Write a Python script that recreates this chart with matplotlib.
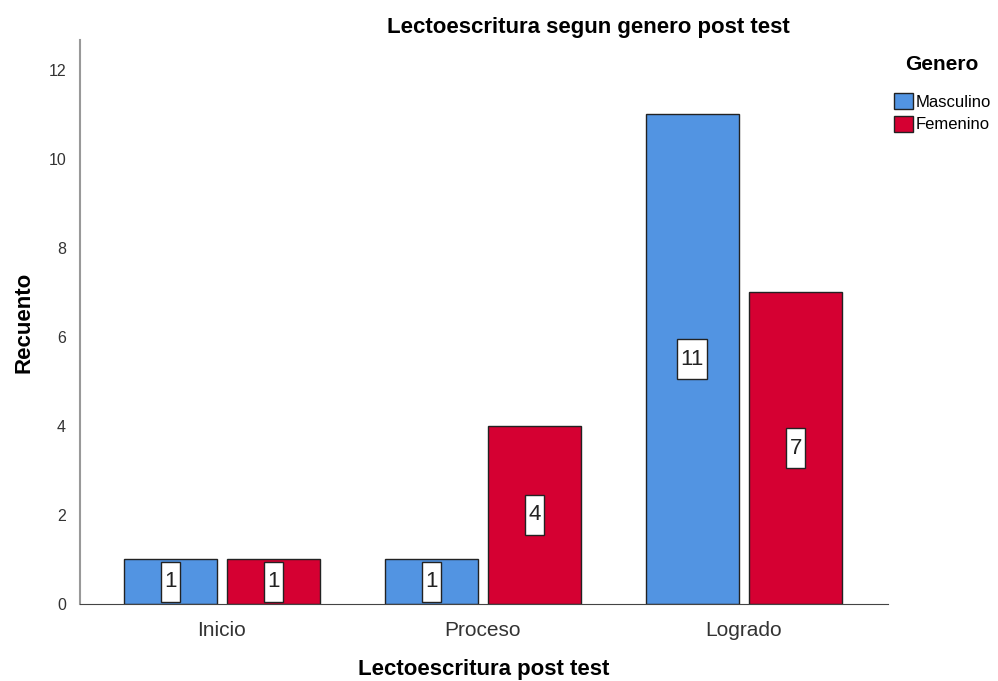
import matplotlib
matplotlib.use("Agg")
import matplotlib.pyplot as plt
import numpy as np
from matplotlib.patches import Patch
from matplotlib.path import Path

plt.rcParams["font.family"] = ["Liberation Sans", "DejaVu Sans"]

categories = ["Inicio", "Proceso", "Logrado"]
masculino = [1, 1, 11]
femenino = [1, 4, 7]
series_names = ["Masculino", "Femenino"]
colors = ["#5294E2", "#D50032"]


def tall_box(x0, y0, width, height, mutation_size):
    px = 0.15 * mutation_size
    py = 0.42 * mutation_size
    x0, y0 = x0 - px, y0 - py
    x1, y1 = x0 + width + 2 * px, y0 + height + 2 * py
    return Path([(x0, y0), (x1, y0), (x1, y1), (x0, y1), (x0, y0)], closed=True)


fig = plt.figure(figsize=(9.98, 6.81), dpi=100)
ax = fig.add_axes([80/998, 77/681, 808/998, 564/681])

x = np.arange(len(categories))
w = 0.356
off = 0.198
for vals, dx, c in [(masculino, -off, colors[0]), (femenino, off, colors[1])]:
    bars = ax.bar(x + dx, vals, width=w, color=c, edgecolor="#222222", linewidth=1.0)
    for b, v in zip(bars, vals):
        ax.text(b.get_x() + b.get_width()/2, v/2, str(v), ha="center", va="center",
                fontsize=16, color="#222222",
                bbox=dict(boxstyle=tall_box, fc="white", ec="#222222", lw=1))

ax.set_xlim(-0.544, 2.552)
ax.set_ylim(0, 12.67)
ax.set_yticks([0, 2, 4, 6, 8, 10, 12])
ax.set_xticks(x)
ax.set_xticklabels(categories, fontsize=15, color="#333333")
ax.tick_params(axis="y", length=0, labelsize=11.5, colors="#333333", pad=10)
ax.tick_params(axis="x", length=0, pad=12)
for s in ["top", "right"]:
    ax.spines[s].set_visible(False)
ax.spines["left"].set_color("#999999")
ax.spines["left"].set_linewidth(1.5)
ax.spines["bottom"].set_color("#444444")

fig.text(588/998, 1 - 27/681, "Lectoescritura segun genero post test", fontsize=16,
         fontweight="bold", ha="center", va="center")
fig.text(24/998, 1 - 322/681, "Recuento", fontsize=16, fontweight="bold",
         ha="center", va="center", rotation=90)
fig.text(484/998, 1 - 670/681, "Lectoescritura post test", fontsize=16,
         fontweight="bold", ha="center", va="center")

handles = [Patch(facecolor=colors[i], edgecolor="#222222", label=series_names[i]) for i in range(2)]
leg = fig.legend(handles=handles, title="Genero", loc="upper left",
                 bbox_to_anchor=(887/998, 1 - 48/681), frameon=False, fontsize=12,
                 title_fontproperties={"weight": "bold", "size": 15},
                 handlelength=1.15, handleheight=1.1, handletextpad=0.15, labelspacing=0.35,
                 borderaxespad=0)
leg._legend_box.sep = 14

fig.savefig("out.png", dpi=100)
